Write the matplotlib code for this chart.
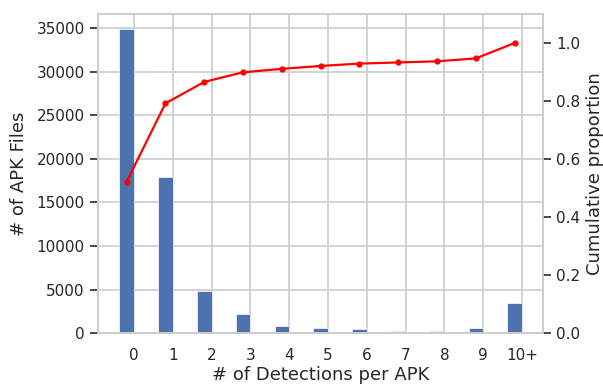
import matplotlib
matplotlib.use("Agg")
import matplotlib.pyplot as plt
import numpy as np

# Number of APK files per detection count
categories = ["0", "1", "2", "3", "4", "5", "6", "7", "8", "9", "10+"]
apk_counts = [34900, 17940, 4820, 2180, 760, 530, 410, 270, 200, 610, 3440]
# Cumulative proportion of APK files
cumulative = [0.522, 0.792, 0.866, 0.899, 0.911, 0.921, 0.929, 0.933, 0.937, 0.947, 1.0]

text_color = "#262626"
grid_color = "#cccccc"
plt.rcParams.update({
    "font.family": "DejaVu Sans",
    "font.size": 11,
    "text.color": text_color,
    "axes.labelcolor": text_color,
    "xtick.color": text_color,
    "ytick.color": text_color,
})

fig = plt.figure(figsize=(6.03, 3.85), dpi=100)
ax = fig.add_axes([0.1625, 0.135, 0.738, 0.8286])

x = np.arange(len(categories))
offset = -0.19
ax.bar(x + offset, apk_counts, width=0.38, color="#4c72b0",
       edgecolor="white", linewidth=0.5, zorder=2)
ax.set_xlim(-0.93, 10.54)
ax.set_ylim(0, 36650)
ax.set_xticks(x)
ax.set_xticklabels(categories)
ax.set_yticks(np.arange(0, 35001, 5000))
ax.grid(True, color=grid_color, linewidth=1.2, zorder=0)
ax.set_axisbelow(True)
ax.tick_params(axis="x", length=0, labelsize=11, pad=11)
ax.tick_params(axis="y", length=6, width=1.2, labelsize=11, color=text_color)
for s in ax.spines.values():
    s.set_color(grid_color)
    s.set_linewidth(1.2)
ax.set_xlabel("# of Detections per APK", fontsize=13, labelpad=2)
ax.set_ylabel("# of APK Files", fontsize=13, labelpad=6)

ax2 = ax.twinx()
ax2.plot(x + offset, cumulative, color="red", linewidth=1.6,
         marker="o", markersize=3.5, zorder=3)
ax2.set_ylim(0, 1.1)
ax2.set_yticks(np.arange(0, 1.01, 0.2))
ax2.set_yticklabels([f"{v:.1f}" for v in np.arange(0, 1.01, 0.2)])
ax2.grid(False)
ax2.tick_params(axis="y", length=6, width=1.2, labelsize=11, color=text_color)
for s in ax2.spines.values():
    s.set_color(grid_color)
    s.set_linewidth(1.2)
ax2.set_ylabel("Cumulative proportion", fontsize=13, labelpad=4)

fig.savefig("out.png", dpi=100)
